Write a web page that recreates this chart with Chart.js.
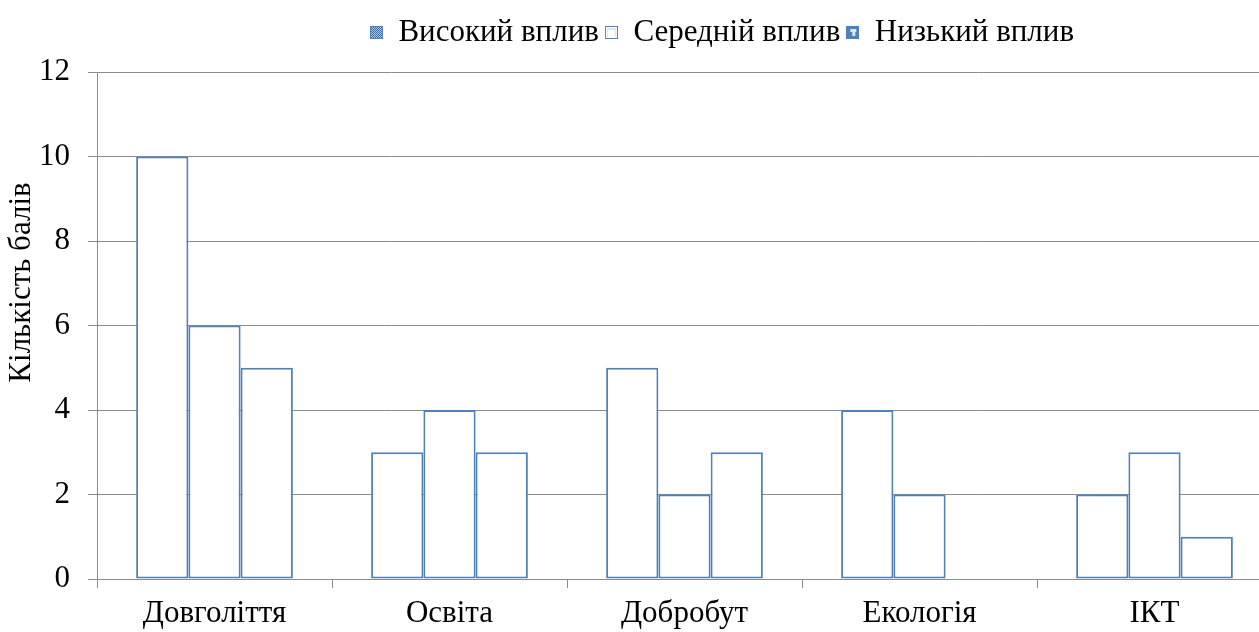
<!DOCTYPE html>
<html>
<head>
<meta charset="utf-8">
<script src="https://cdn.jsdelivr.net/npm/chart.js@4.4.0/dist/chart.umd.min.js"></script>
<style>
  html, body { margin: 0; padding: 0; background: #fff; overflow: hidden; width: 1259px; height: 632px; }
  #c { position: absolute; left: 0; top: 0; }
</style>
</head>
<body>
<canvas id="c" width="1272" height="632"></canvas>
<script>
const categories = ['Довголіття', 'Освіта', 'Добробут', 'Екологія', 'ІКТ'];
const seriesNames = ['Високий вплив', 'Середній вплив', 'Низький вплив'];
const highImpact = [10, 3, 5, 4, 2];
const mediumImpact = [6, 4, 2, 2, 3];
const lowImpact = [5, 3, 3, 0, 1];
const yTicks = [0, 2, 4, 6, 8, 10, 12];
const axisTitle = 'Кількість балів';

const BLUE = '#4F81BD';
const GRID = '#8C8C8C';
const FONT = '"Liberation Serif", "Times New Roman", serif';
const FS = 31;

function marker(kind) {
  const s = 13;
  const cv = document.createElement('canvas');
  cv.width = s; cv.height = s;
  const g = cv.getContext('2d');
  g.fillStyle = '#fff'; g.fillRect(0, 0, s, s);
  if (kind === 0) {
    for (let y = 1; y < s - 1; y++) for (let x = 1; x < s - 1; x++) {
      g.fillStyle = ((x + y) % 2 === 0) ? '#3E6FB0' : '#A9C1E3';
      g.fillRect(x, y, 1, 1);
    }
  } else if (kind === 1) {
    g.fillStyle = '#DCE6F2'; g.fillRect(2, 2, s - 4, s - 4);
    g.fillStyle = '#fff'; g.fillRect(3, 4, s - 6, s - 6);
  } else {
    g.fillStyle = '#4F81BD'; g.fillRect(1, 1, s - 2, s - 2);
    g.fillStyle = '#DCE6F2'; g.fillRect(4, 3, 6, 3); g.fillRect(6, 6, 3, 4);
  }
  g.strokeStyle = BLUE; g.lineWidth = 1;
  g.strokeRect(0.5, 0.5, s - 1, s - 1);
  return cv;
}
const markers = [marker(0), marker(1), marker(2)];

const layoutTweak = {
  id: 'layoutTweak',
  afterInit(chart) {
    const lg = chart.legend;
    const f = lg.fit.bind(lg);
    lg.fit = function () { f(); this.height = 72; };
  },
  afterLayout(chart) {
    const lg = chart.legend;
    lg.left += 86; lg.right += 86;
    lg.top += 11; lg.bottom += 11;
    const y = chart.scales.y;
    if (y && !y._titleWrapped) {
      const orig = y.drawTitle.bind(y);
      y.drawTitle = function () {
        const b = this.bottom;
        this.bottom -= 86;
        orig();
        this.bottom = b;
      };
      y._titleWrapped = true;
    }
  }
};

const mk = (label, data) => ({
  label, data,
  backgroundColor: '#FFFFFF',
  borderColor: BLUE,
  borderWidth: 2,
  borderSkipped: false,
  categoryPercentage: 0.667,
  barPercentage: 1.0
});

new Chart(document.getElementById('c'), {
  type: 'bar',
  data: {
    labels: categories,
    datasets: [
      mk(seriesNames[0], highImpact),
      mk(seriesNames[1], mediumImpact),
      mk(seriesNames[2], lowImpact)
    ]
  },
  plugins: [layoutTweak],
  options: {
    responsive: false,
    animation: false,
    layout: { padding: 0 },
    plugins: {
      tooltip: { enabled: false },
      legend: {
        position: 'top',
        labels: {
          font: { family: FONT, size: FS },
          color: '#000',
          padding: 6,
          boxWidth: 13,
          boxHeight: 13,
          usePointStyle: true,
          generateLabels: (chart) => chart.data.datasets.map((d, i) => ({
            text: d.label,
            fillStyle: '#fff',
            strokeStyle: BLUE,
            lineWidth: 1,
            pointStyle: markers[i],
            datasetIndex: i,
            hidden: false,
            fontColor: '#000'
          }))
        }
      }
    },
    scales: {
      x: {
        offset: true,
        grid: { drawOnChartArea: false, drawTicks: true, tickLength: 9, color: GRID, offset: true },
        border: { color: GRID, width: 1 },
        ticks: { font: { family: FONT, size: FS }, color: '#000', padding: 7, maxRotation: 0, autoSkip: false },
        afterFit: (s) => { s.height = 53; }
      },
      y: {
        min: 0, max: 12,
        afterBuildTicks: (s) => { s.ticks = yTicks.map(v => ({ value: v })); },
        grid: { color: GRID, tickLength: 9, drawTicks: true },
        border: { color: GRID, width: 1 },
        ticks: { font: { family: FONT, size: FS }, color: '#000', padding: 18 },
        title: { display: true, text: axisTitle, font: { family: FONT, size: FS }, color: '#000', padding: { top: 3, bottom: 0 } },
        afterFit: (s) => { s.width = 97; }
      }
    }
  }
});
</script>
</body>
</html>
